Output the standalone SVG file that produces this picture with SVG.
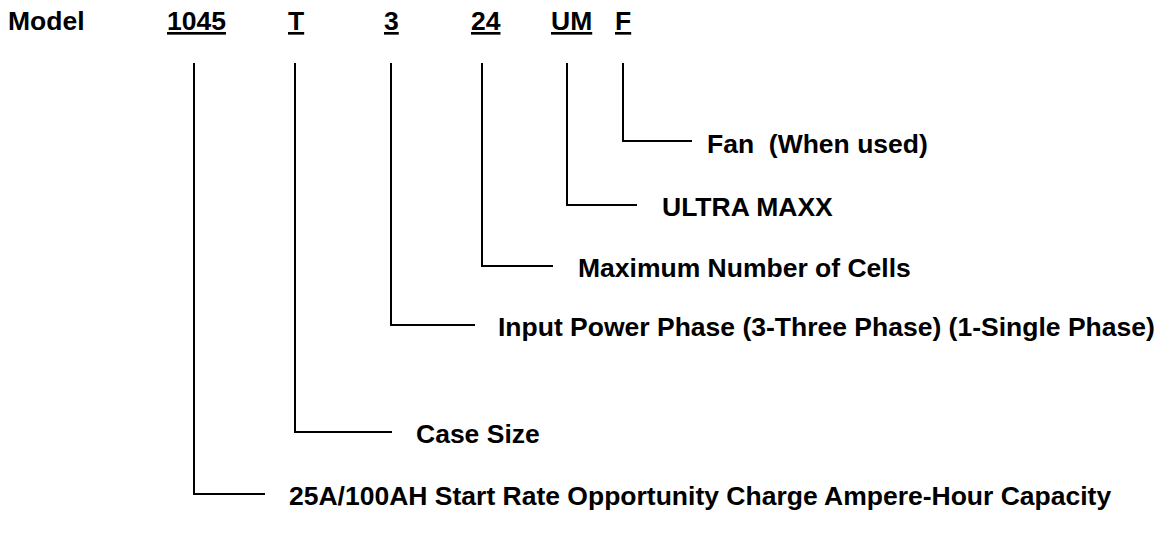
<svg xmlns="http://www.w3.org/2000/svg" width="1163" height="544" viewBox="0 0 1163 544">
<style>
text{font-family:"Liberation Sans",Arial,sans-serif;font-weight:bold;font-size:26.5px;fill:#000}
.u{text-decoration:underline}
.c{fill:none;stroke:#000;stroke-width:2}
</style>
<rect width="1163" height="544" fill="#fff"/>
<g id="header">
<text x="8" y="30">Model</text>
<text class="u" x="167" y="30">1045</text>
<text class="u" x="288" y="30">T</text>
<text class="u" x="384" y="30">3</text>
<text class="u" x="471" y="30">24</text>
<text class="u" x="551" y="30">UM</text>
<text class="u" x="615" y="30">F</text>
</g>
<g id="connectors">
<polyline class="c" points="623,63 623,141 692,141"/>
<polyline class="c" points="567,63 567,205 637,205"/>
<polyline class="c" points="482,63 482,266 553,266"/>
<polyline class="c" points="391,63 391,325 475,325"/>
<polyline class="c" points="295,63 295,432 392,432"/>
<polyline class="c" points="194,63 194,494 265,494"/>
</g>
<g id="fan"><text x="707" y="153" xml:space="preserve">Fan  (When used)</text></g>
<g id="ultramaxx"><text x="662" y="216">ULTRA MAXX</text></g>
<g id="cells"><text x="578" y="277">Maximum Number of Cells</text></g>
<g id="phase"><text x="498" y="336">Input Power Phase (3-Three Phase) (1-Single Phase)</text></g>
<g id="case"><text x="416" y="443">Case Size</text></g>
<g id="capacity"><text x="289" y="505">25A/100AH Start Rate Opportunity Charge Ampere-Hour Capacity</text></g>
</svg>
